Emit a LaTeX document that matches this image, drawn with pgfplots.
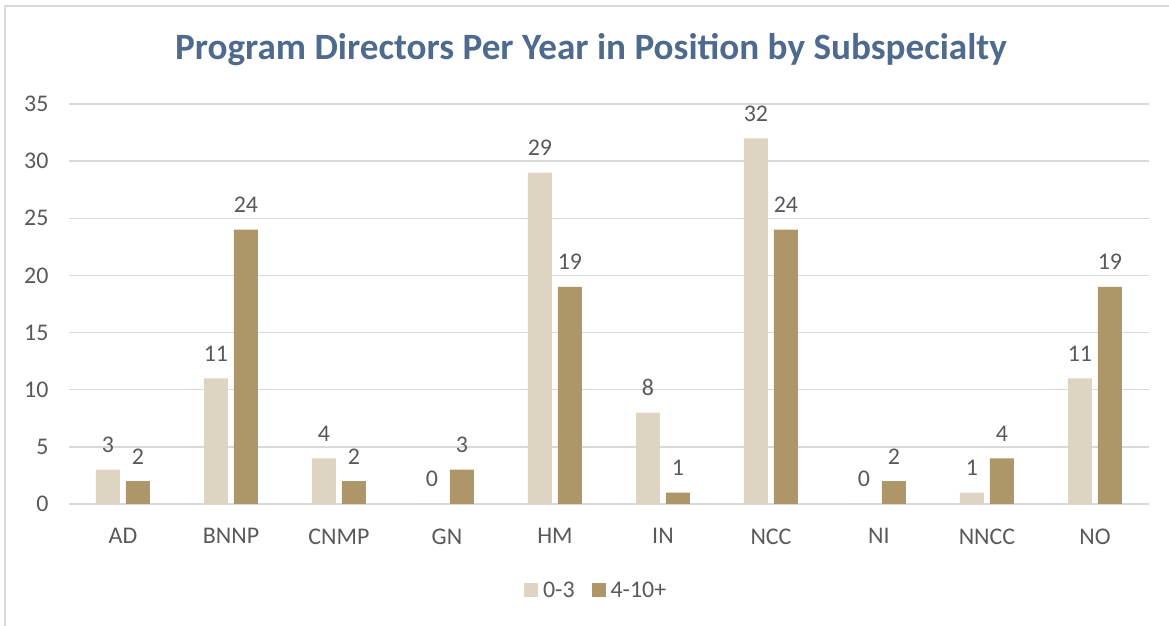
\documentclass[border=0pt]{standalone}
\usepackage{fontspec}
\setmainfont{Carlito}
\usepackage{pgfplots}
\pgfplotsset{compat=1.18}
\definecolor{lightbar}{HTML}{DDD4C1}
\definecolor{darkbar}{HTML}{AD9668}
\definecolor{txt}{HTML}{595959}
\definecolor{gridc}{HTML}{D9D9D9}
\definecolor{ttl}{HTML}{4E6A8D}
\begin{document}
\begin{tikzpicture}
\useasboundingbox (0,0) rectangle (1169bp,626bp);
\draw[gridc, line width=1.5bp] (5bp,0) -- (5bp,620bp) -- (1169bp,620bp);
\node[anchor=base, text=ttl, font=\fontsize{37.3}{44}\selectfont\bfseries] at (591bp,566bp) {Program Directors Per Year in Position by Subspecialty};
\begin{axis}[at={(69bp,122bp)}, anchor=south west, scale only axis,
  width=1080bp, height=400bp,
  xmin=-0.5, xmax=9.5, ymin=0, ymax=35,
  ytick={0,5,...,35}, xtick={0,...,9},
  xticklabels={AD,BNNP,CNMP,GN,HM,IN,NCC,NI,NNCC,NO},
  ymajorgrids, grid style={gridc, line width=1.5bp},
  axis line style={draw=none}, major tick length=0,
  ticklabel style={font=\fontsize{24}{28}\selectfont, text=txt},
  yticklabel style={xshift=-17bp},
  xticklabel style={yshift=-21bp},
  /pgf/number format/assume math mode=true,
  ybar, bar width=24bp,
  nodes near coords,
  nodes near coords style={anchor=base, inner sep=0pt, yshift=17bp, font=\fontsize{24}{28}\selectfont, text=txt},
  legend image code/.code={\fill[#1] (0bp,-7bp) rectangle (14bp,7bp);},
  legend style={at={(axis description cs:0.4895,-0.215)}, anchor=center, draw=none,
    font=\fontsize{24}{28}\selectfont, text=txt,
    nodes={inner xsep=5bp},
    /tikz/every even column/.append style={column sep=12bp}},
  legend columns=2,
]
\addplot[fill=lightbar, draw=none, bar shift=-15bp] coordinates {(0,3) (1,11) (2,4) (3,0) (4,29) (5,8) (6,32) (7,0) (8,1) (9,11)};
\addplot[fill=darkbar, draw=none, bar shift=15bp] coordinates {(0,2) (1,24) (2,2) (3,3) (4,19) (5,1) (6,24) (7,2) (8,4) (9,19)};
\legend{0-3,4-10+}
\end{axis}
\end{tikzpicture}
\end{document}
